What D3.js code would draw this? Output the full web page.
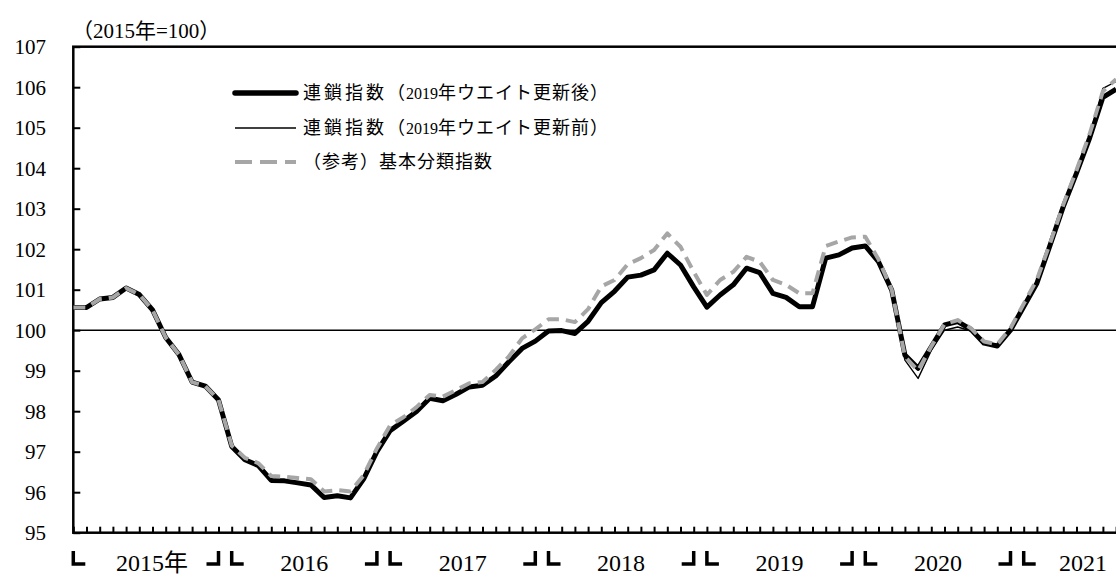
<!DOCTYPE html>
<html>
<head>
<meta charset="utf-8">
<script src="https://cdn.jsdelivr.net/npm/d3@7"></script>
<style>
  body { margin: 0; background: #fff; }
  svg { display: block; }
</style>
</head>
<body>
<svg id="chart" width="1116" height="575"></svg>
<script>
// monthly index, Jan 2015 .. Aug 2021 (2015 = 100)
const afterUpdate = [
  100.56, 100.56, 100.77, 100.81, 101.04, 100.88, 100.50, 99.82, 99.40, 98.72, 98.62, 98.28,
  97.13, 96.80, 96.66, 96.29, 96.28, 96.23, 96.18, 95.87, 95.91, 95.86, 96.33, 97.00,
  97.52, 97.75, 97.99, 98.32, 98.26, 98.42, 98.60, 98.64, 98.87, 99.22, 99.55, 99.73,
  99.98, 99.99, 99.92, 100.22, 100.68, 100.96, 101.31, 101.36, 101.49, 101.90, 101.61, 101.07,
  100.57, 100.87, 101.12, 101.53, 101.42, 100.91, 100.81, 100.58, 100.58, 101.78, 101.86, 102.03,
  102.08, 101.69, 100.99, 99.39, 99.06, 99.59, 100.13, 100.21, 100.02, 99.68, 99.61, 100.00,
  100.58, 101.16, 102.10, 103.05, 103.88, 104.75, 105.75, 105.95
];
const beforeUpdate = [
  100.56, 100.56, 100.77, 100.81, 101.04, 100.88, 100.50, 99.82, 99.40, 98.72, 98.62, 98.28,
  97.13, 96.80, 96.66, 96.29, 96.28, 96.23, 96.18, 95.87, 95.91, 95.86, 96.33, 97.00,
  97.52, 97.75, 97.99, 98.32, 98.26, 98.42, 98.60, 98.64, 98.87, 99.22, 99.55, 99.73,
  99.98, 99.99, 99.92, 100.22, 100.68, 100.96, 101.31, 101.36, 101.49, 101.90, 101.61, 101.07,
  100.57, 100.87, 101.12, 101.53, 101.42, 100.91, 100.81, 100.58, 100.58, 101.78, 101.86, 102.03,
  102.08, 101.69, 100.97, 99.26, 98.81, 99.50, 100.00, 100.08, 99.98, 99.66, 99.61, 100.00,
  100.60, 101.20, 102.15, 103.10, 103.92, 104.80, 105.97, 106.14
];
const basicIndex = [
  100.56, 100.56, 100.77, 100.81, 101.04, 100.88, 100.50, 99.82, 99.40, 98.72, 98.62, 98.28,
  97.15, 96.85, 96.72, 96.40, 96.38, 96.35, 96.32, 96.02, 96.05, 96.02, 96.42, 97.08,
  97.65, 97.85, 98.10, 98.40, 98.36, 98.52, 98.69, 98.72, 99.02, 99.35, 99.80, 100.02,
  100.27, 100.27, 100.20, 100.52, 101.08, 101.24, 101.63, 101.78, 101.98, 102.39, 102.06, 101.44,
  100.87, 101.24, 101.44, 101.81, 101.69, 101.24, 101.12, 100.91, 100.91, 102.08, 102.19, 102.29,
  102.31, 101.75, 101.00, 99.35, 99.00, 99.60, 100.15, 100.25, 100.05, 99.72, 99.65, 100.05,
  100.65, 101.25, 102.15, 103.10, 103.95, 104.85, 105.90, 106.20
];

const yTicks = [95, 96, 97, 98, 99, 100, 101, 102, 103, 104, 105, 106, 107];
const years = [2015, 2016, 2017, 2018, 2019, 2020, 2021];
const yearLabels = ["2015年", "2016", "2017", "2018", "2019", "2020", "2021"];
const seriesNames = [
  ["連鎖指数", "（", "2019", "年ウエイト更新後）"],
  ["連鎖指数", "（", "2019", "年ウエイト更新前）"],
  ["", "（参考）基本分類指数", "", ""]
];

// month categories; the axis runs on to Oct 2021, beyond the picture edge
const months = [];
years.forEach(yr => d3.range(1, 13).forEach(m => months.push(`${yr}-${String(m).padStart(2, "0")}`)));
const axisMonths = months.slice(0, 82);

const serif = "'Liberation Serif', 'Times New Roman', 'Noto Sans CJK JP', serif";
const gothic = "'Noto Sans CJK JP', sans-serif";

const svg = d3.select("#chart");
const margin = {top: 46.7, bottom: 532.7, left: 73.3};
const step = 13.2;

const x = d3.scalePoint()
  .domain(axisMonths)
  .range([margin.left, margin.left + step * (axisMonths.length - 1)]);
const y = d3.scaleLinear().domain([95, 107]).range([margin.bottom, margin.top]);

// frame
svg.append("rect")
  .attr("x", margin.left).attr("y", margin.top)
  .attr("width", x.range()[1] - margin.left + 10).attr("height", margin.bottom - margin.top)
  .attr("fill", "none").attr("stroke", "#000").attr("stroke-width", 2.5);

// y ticks + labels
const yAxis = svg.append("g")
  .attr("transform", `translate(${margin.left},0)`)
  .call(d3.axisRight(y).tickValues(yTicks).tickSize(7).tickFormat(""));
yAxis.select(".domain").remove();
yAxis.selectAll("line").attr("stroke-width", 2);

svg.append("g").selectAll("text")
  .data(yTicks)
  .join("text")
  .attr("x", 46).attr("y", d => y(d)).attr("dy", "0.36em")
  .attr("text-anchor", "end")
  .attr("font-family", serif).attr("font-size", 21)
  .text(d => d);

// x month ticks
const xAxis = svg.append("g")
  .attr("transform", `translate(0,${margin.bottom})`)
  .call(d3.axisTop(x).tickSize(6).tickFormat(""));
xAxis.select(".domain").remove();
xAxis.selectAll("line").attr("stroke-width", 2);

// year brackets and labels
const brackets = svg.append("g")
  .attr("fill", "none").attr("stroke", "#000").attr("stroke-width", 3.5)
  .attr("stroke-linecap", "butt");
years.forEach((yr, i) => {
  const first = x(`${yr}-01`);
  brackets.append("path").attr("d", `M${first},551V564H${first + 12}`);
  if (yr < 2021) {
    const last = x(`${yr}-12`);
    brackets.append("path").attr("d", `M${last - 12},564H${last}V551`);
  }
  const end = yr < 2021 ? `${yr}-12` : axisMonths[axisMonths.length - 1];
  svg.append("text")
    .attr("x", (first + x(end)) / 2 + (i === 0 ? 6 : 0))
    .attr("y", 571)
    .attr("text-anchor", "middle")
    .attr("font-family", serif).attr("font-size", 24)
    .text(yearLabels[i]);
});

// unit label
svg.append("text")
  .attr("x", 72).attr("y", 38)
  .attr("font-family", serif).attr("font-size", 21)
  .text("（2015年=100）");

// 100 reference line
svg.append("line")
  .attr("x1", margin.left).attr("x2", 1116)
  .attr("y1", y(100)).attr("y2", y(100))
  .attr("stroke", "#000").attr("stroke-width", 1.6);

// series
const plot = svg.append("g");
plot.append("clipPath").attr("id", "clip")
  .append("rect").attr("x", margin.left).attr("y", margin.top)
  .attr("width", 1200).attr("height", margin.bottom - margin.top);

const line = d3.line().x((d, i) => x(months[i])).y(d => y(d));

const styles = [
  {data: afterUpdate, color: "#000", width: 5, dash: null},
  {data: beforeUpdate, color: "#000", width: 1.4, dash: null},
  {data: basicIndex, color: "#a6a6a6", width: 4, dash: "12,7"}
];

styles.forEach(s => {
  plot.append("path")
    .datum(s.data)
    .attr("clip-path", "url(#clip)")
    .attr("fill", "none")
    .attr("stroke", s.color)
    .attr("stroke-width", s.width)
    .attr("stroke-linejoin", "round")
    .attr("stroke-dasharray", s.dash)
    .attr("d", line);
});

// legend
const legendRows = [93, 128, 162];
const legend = svg.append("g");
styles.forEach((s, i) => {
  legend.append("line")
    .attr("x1", 235).attr("x2", 296)
    .attr("y1", legendRows[i]).attr("y2", legendRows[i])
    .attr("stroke", s.color)
    .attr("stroke-width", i === 0 ? 5.5 : s.width)
    .attr("stroke-linecap", i === 0 ? "round" : "butt")
    .attr("stroke-dasharray", i === 2 ? "17,8" : null);

  const parts = seriesNames[i];
  const t = legend.append("text")
    .attr("x", 303).attr("y", legendRows[i]).attr("dy", "0.36em")
    .attr("font-family", gothic).attr("font-size", 18);
  if (parts[0]) t.append("tspan").attr("letter-spacing", 3).text(parts[0]);
  t.append("tspan").attr("letter-spacing", 1).text(parts[1]);
  if (parts[2]) t.append("tspan").attr("font-family", serif).attr("font-size", 16).text(parts[2]);
  if (parts[3]) t.append("tspan").attr("letter-spacing", 1).text(parts[3]);
});
</script>
</body>
</html>
